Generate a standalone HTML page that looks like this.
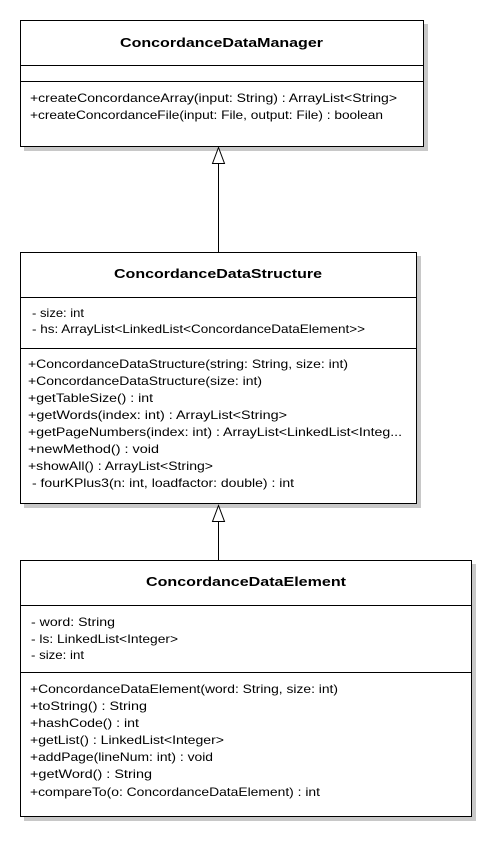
<!DOCTYPE html>
<html><head><style>body{margin:0;background:#fff}svg{display:block}</style></head><body>
<svg width="496" height="841" xmlns="http://www.w3.org/2000/svg" font-family="'Liberation Sans', sans-serif" font-size="12" fill="#000">
<g fill="#c8c8c8"><rect x="24" y="24" width="404" height="127"/><rect x="24" y="256" width="397" height="252"/><rect x="24" y="564" width="452" height="257"/></g>
<g fill="#fff" stroke="#000" stroke-width="1">
<rect x="20.5" y="20.5" width="403" height="126"/>
<rect x="20.5" y="252.5" width="396" height="251"/>
<rect x="20.5" y="560.5" width="451" height="256"/>
</g>
<g stroke="#000" stroke-width="1">
<line x1="20" y1="65.5" x2="424" y2="65.5"/><line x1="20" y1="81.5" x2="424" y2="81.5"/>
<line x1="20" y1="297.5" x2="417" y2="297.5"/><line x1="20" y1="348.5" x2="417" y2="348.5"/>
<line x1="20" y1="605.5" x2="472" y2="605.5"/><line x1="20" y1="672.5" x2="472" y2="672.5"/>
<line x1="218.5" y1="163" x2="218.5" y2="252"/>
<line x1="218.5" y1="521" x2="218.5" y2="560"/>
</g>
<g fill="#fff" stroke="#000"><polygon points="218.5,147.5 212.5,163.5 224.5,163.5"/><polygon points="218.5,505.5 212.5,521.5 224.5,521.5"/></g>
<g font-weight="bold" font-size="13">
<text x="120" y="47" textLength="203" lengthAdjust="spacingAndGlyphs">ConcordanceDataManager</text>
<text x="114" y="278" textLength="208" lengthAdjust="spacingAndGlyphs">ConcordanceDataStructure</text>
<text x="146" y="586" textLength="200" lengthAdjust="spacingAndGlyphs">ConcordanceDataElement</text>
</g>
<g lengthAdjust="spacingAndGlyphs">
<text x="30" y="102" textLength="367" lengthAdjust="spacingAndGlyphs">+createConcordanceArray(input: String) : ArrayList&lt;String&gt;</text>
<text x="30" y="119" textLength="353" lengthAdjust="spacingAndGlyphs">+createConcordanceFile(input: File, output: File) : boolean</text>

<text x="32" y="317" textLength="52" lengthAdjust="spacingAndGlyphs">- size: int</text>
<text x="32" y="333" textLength="333" lengthAdjust="spacingAndGlyphs">- hs: ArrayList&lt;LinkedList&lt;ConcordanceDataElement&gt;&gt;</text>
<text x="28" y="368" textLength="320" lengthAdjust="spacingAndGlyphs">+ConcordanceDataStructure(string: String, size: int)</text>
<text x="28" y="385" textLength="234" lengthAdjust="spacingAndGlyphs">+ConcordanceDataStructure(size: int)</text>
<text x="28" y="402" textLength="125" lengthAdjust="spacingAndGlyphs">+getTableSize() : int</text>
<text x="28" y="419" textLength="259" lengthAdjust="spacingAndGlyphs">+getWords(index: int) : ArrayList&lt;String&gt;</text>
<text x="28" y="436" textLength="374" lengthAdjust="spacingAndGlyphs">+getPageNumbers(index: int) : ArrayList&lt;LinkedList&lt;Integ...</text>
<text x="28" y="453" textLength="131" lengthAdjust="spacingAndGlyphs">+newMethod() : void</text>
<text x="28" y="470" textLength="185" lengthAdjust="spacingAndGlyphs">+showAll() : ArrayList&lt;String&gt;</text>
<text x="32" y="487" textLength="262" lengthAdjust="spacingAndGlyphs">- fourKPlus3(n: int, loadfactor: double) : int</text>

<text x="31" y="626" textLength="84" lengthAdjust="spacingAndGlyphs">- word: String</text>
<text x="31" y="643" textLength="147" lengthAdjust="spacingAndGlyphs">- ls: LinkedList&lt;Integer&gt;</text>
<text x="31" y="659" textLength="53" lengthAdjust="spacingAndGlyphs">- size: int</text>
<text x="30" y="693" textLength="308" lengthAdjust="spacingAndGlyphs">+ConcordanceDataElement(word: String, size: int)</text>
<text x="30" y="710" textLength="117" lengthAdjust="spacingAndGlyphs">+toString() : String</text>
<text x="30" y="727" textLength="109" lengthAdjust="spacingAndGlyphs">+hashCode() : int</text>
<text x="30" y="744" textLength="194" lengthAdjust="spacingAndGlyphs">+getList() : LinkedList&lt;Integer&gt;</text>
<text x="30" y="761" textLength="183" lengthAdjust="spacingAndGlyphs">+addPage(lineNum: int) : void</text>
<text x="30" y="778" textLength="122" lengthAdjust="spacingAndGlyphs">+getWord() : String</text>
<text x="30" y="796" textLength="290" lengthAdjust="spacingAndGlyphs">+compareTo(o: ConcordanceDataElement) : int</text>
</g>
</svg>
</body></html>
